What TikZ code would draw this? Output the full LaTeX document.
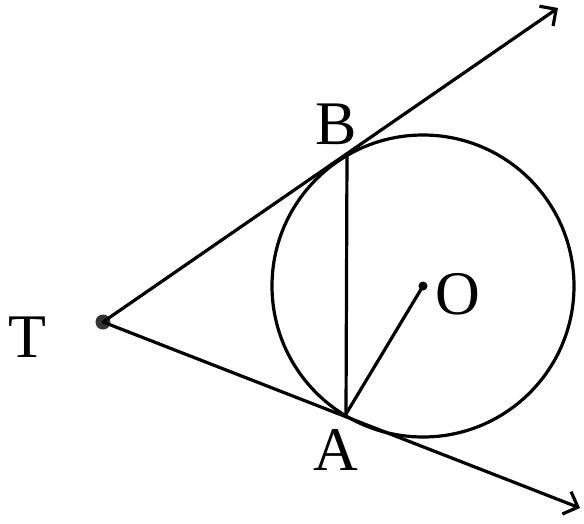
\documentclass[tikz,border=0pt]{standalone}
\usepackage{fontspec}
\setmainfont{Liberation Serif}
\usetikzlibrary{arrows.meta}
\begin{document}
\begin{tikzpicture}[x=1pt,y=-1pt,
  geo/.style={line width=3.2pt, line cap=round},
  ray/.style={geo, -{Straight Barb[length=12pt,width=24pt]}},
  dotT/.style={circle, fill=black!80, inner sep=0pt, minimum size=15pt},
  dotO/.style={circle, fill=black, inner sep=0pt, minimum size=9pt},
  lbl/.style={font=\fontsize{62}{62}\selectfont, inner sep=0pt}]
\useasboundingbox (0,0) rectangle (584,523);
\fill[white] (0,0) rectangle (584,523);
% points
\node[dotT] (T) at (103,322) {};
\node[dotO] (O) at (423,286) {};
\coordinate (B) at (347,154);
\coordinate (A) at (346,414);
\coordinate (U) at (558,8);
\coordinate (L) at (580,508);
% circle
\draw[geo] (O.center) circle[radius=151];
% tangents
\draw[ray] (T.center) -- (U);
\draw[ray] (T.center) -- (L);
% chord and radius
\draw[geo] (B) -- (A);
\draw[geo] (A) -- (O.center);
% labels
\node[lbl] (lT) at (27,337) {T};
\node[lbl] (lB) at (336,124) {B};
\node[lbl] (lA) at (336,450) {A};
\node[lbl] (lO) at (458,294) {O};
\end{tikzpicture}
\end{document}
